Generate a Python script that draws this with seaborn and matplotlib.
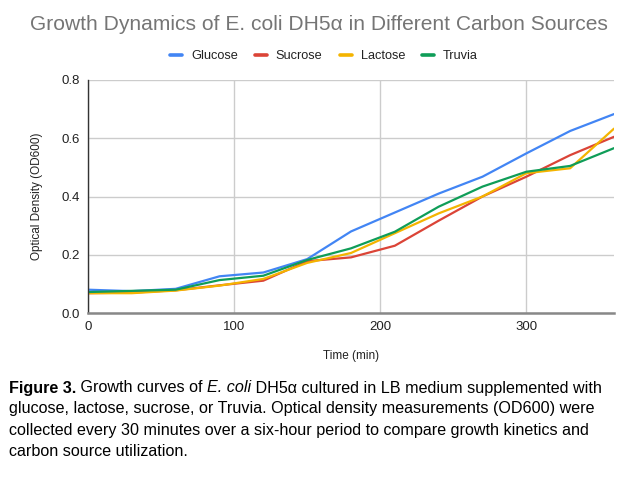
import matplotlib
matplotlib.use("Agg")
import matplotlib.pyplot as plt
import seaborn as sns
import pandas as pd

time_min = [0, 30, 60, 90, 120, 150, 180, 210, 240, 270, 300, 330, 360]
glucose = [0.080, 0.075, 0.083, 0.126, 0.139, 0.185, 0.280, 0.345, 0.410, 0.468, 0.548, 0.625, 0.683]
sucrose = [0.068, 0.070, 0.078, 0.095, 0.111, 0.178, 0.191, 0.231, 0.317, 0.400, 0.468, 0.542, 0.605]
lactose = [0.068, 0.068, 0.077, 0.094, 0.117, 0.172, 0.206, 0.274, 0.342, 0.400, 0.480, 0.497, 0.633]
truvia = [0.072, 0.076, 0.080, 0.113, 0.128, 0.182, 0.222, 0.279, 0.365, 0.434, 0.485, 0.505, 0.566]
series_names = ["Glucose", "Sucrose", "Lactose", "Truvia"]
x_ticks = [0, 100, 200, 300]
y_ticks = [0.0, 0.2, 0.4, 0.6, 0.8]
colors = ["#4285F4", "#DB4437", "#F4B400", "#0F9D58"]

title = "Growth Dynamics of E. coli DH5\u03b1 in Different Carbon Sources"
caption_rest = [
    "glucose, lactose, sucrose, or Truvia. Optical density measurements (OD600) were",
    "collected every 30 minutes over a six-hour period to compare growth kinetics and",
    "carbon source utilization.",
]

sns.set_theme(style="white")
plt.rcParams["font.family"] = ["Liberation Sans", "DejaVu Sans"]

df = pd.DataFrame({
    "Time (min)": time_min * 4,
    "OD": glucose + sucrose + lactose + truvia,
    "Source": sum([[n] * len(time_min) for n in series_names], []),
})

W, H = 638, 484
fig = plt.figure(figsize=(W / 100, H / 100), dpi=100)
ax = fig.add_axes([88 / W, 1 - 313 / H, (614 - 88) / W, (313 - 80) / H])

sns.lineplot(data=df, x="Time (min)", y="OD", hue="Source", hue_order=series_names,
             palette=colors, linewidth=1.6, ax=ax, legend=False)

ax.set_xlim(0, 360)
ax.set_ylim(0, 0.8)
ax.set_xticks(x_ticks)
ax.set_yticks(y_ticks)
ax.set_xticklabels([str(t) for t in x_ticks])
ax.set_yticklabels([f"{v:.1f}" for v in y_ticks])
ax.tick_params(axis="both", length=0, labelsize=9.5, colors="#222222", pad=6)
ax.grid(True, color="#cccccc", linewidth=1)
ax.set_axisbelow(True)
for s in ["top", "right"]:
    ax.spines[s].set_visible(False)
ax.spines["left"].set_color("#333333")
ax.spines["left"].set_linewidth(1)
ax.spines["bottom"].set_color("#888888")
ax.spines["bottom"].set_linewidth(1.8)
ax.set_xlabel("Time (min)", fontsize=8.5, color="#222222", labelpad=12)
ax.set_ylabel("Optical Density (OD600)", fontsize=8.5, color="#222222", labelpad=13)

fig.text(0.5, 1 - 25 / H, title, ha="center", va="center", fontsize=15.1, color="#757575")

from matplotlib.lines import Line2D
handles = [Line2D([0], [0], color=c, linewidth=2.6) for c in colors]
fig.legend(handles, series_names, loc="center", bbox_to_anchor=(324 / W, 1 - 56 / H), ncol=4,
           frameon=False, fontsize=9.2, handlelength=0.94, handletextpad=0.7, columnspacing=1.33,
           labelcolor="#222222")

# caption with mixed styles
fig.canvas.draw()
renderer = fig.canvas.get_renderer()
fs = 11.6
x0 = 9 / W
y_lines = [388, 409, 430, 451]
segments = [("Figure 3.", "normal", "bold"), (" Growth curves of ", "normal", "normal"),
            ("E. coli", "italic", "normal"),
            (" DH5\u03b1 cultured in LB medium supplemented with", "normal", "normal")]
x = x0
for txt, style, weight in segments:
    t = fig.text(x, 1 - y_lines[0] / H, txt, ha="left", va="center", fontsize=fs,
                 fontstyle=style, fontweight=weight, color="#000000")
    bb = t.get_window_extent(renderer=renderer)
    x += bb.width / W
for i, line in enumerate(caption_rest):
    fig.text(x0, 1 - y_lines[i + 1] / H, line, ha="left", va="center", fontsize=fs, color="#000000")

fig.savefig("out.png", dpi=100, facecolor="white")
